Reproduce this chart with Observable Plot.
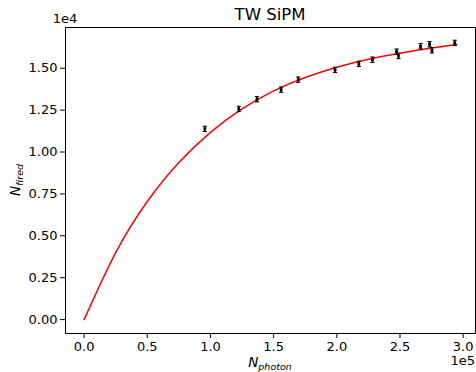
<!DOCTYPE html>
<html>
<head>
<meta charset="utf-8">
<script src="https://cdn.jsdelivr.net/npm/d3@7"></script>
<script src="https://cdn.jsdelivr.net/npm/@observablehq/plot@0.6"></script>
<style>
  html, body { margin: 0; padding: 0; background: #fff; }
  #chart { width: 476px; height: 372px; }
</style>
</head>
<body>
<div id="chart"></div>
<script>
// Measured points (N_photon, N_fired) with y error
const photons = [95500, 122400, 136800, 155900, 169500, 198600, 217400, 228200, 247300, 248800, 266300, 273400, 275300, 293300];
const fired   = [11380, 12570, 13150, 13720, 14320, 14900, 15260, 15510, 15990, 15730, 16310, 16430, 16070, 16510];
const firedErr = [160, 160, 160, 160, 160, 160, 160, 160, 160, 160, 160, 160, 160, 160];

// Fitted curve
const curveX = [0, 25000, 50000, 75000, 100000, 125000, 150000, 175000, 200000, 225000, 250000, 275000, 295000];
const curveY = [0, 4000, 7050, 9370, 11170, 12570, 13650, 14450, 15060, 15540, 15900, 16200, 16410];

const xTicks = [0, 50000, 100000, 150000, 200000, 250000, 300000];
const yTicks = [0, 2500, 5000, 7500, 10000, 12500, 15000];

const titleText = "TW SiPM";

const points = photons.map((x, i) => ({x, y: fired[i], lo: fired[i] - firedErr[i], hi: fired[i] + firedErr[i]}));
const curve = curveX.map((x, i) => ({x, y: curveY[i]}));

const capSymbol = {
  draw(ctx, size) {
    const w = Math.sqrt(size) * 0.6;
    ctx.moveTo(-w, 0);
    ctx.lineTo(w, 0);
  }
};

const plot = Plot.plot({
  width: 476,
  height: 372,
  marginLeft: 65,
  marginRight: 1,
  marginTop: 27,
  marginBottom: 39,
  style: {fontFamily: "DejaVu Sans", fontSize: "13px", color: "#000", background: "#fff"},
  x: {domain: [-14750, 309750]},
  y: {domain: [-830, 17430]},
  marks: [
    Plot.line(curve, {x: "x", y: "y", stroke: "#ff0000", strokeWidth: 1.5, curve: "natural"}),
    Plot.link(points, {x1: "x", x2: "x", y1: "lo", y2: "hi", stroke: "#000", strokeWidth: 1.6}),
    Plot.dot(points, {x: "x", y: "lo", symbol: capSymbol, r: 2, stroke: "#000", strokeWidth: 1, fill: "none"}),
    Plot.dot(points, {x: "x", y: "hi", symbol: capSymbol, r: 2, stroke: "#000", strokeWidth: 1, fill: "none"}),
    Plot.dot(points, {x: "x", y: "y", symbol: "square", r: 1.6, fill: "#000", stroke: "none"}),
    Plot.axisX({ticks: xTicks, tickFormat: d => (d / 1e5).toFixed(1), tickSize: 5, tickPadding: 3, fontSize: 13, label: null}),
    Plot.axisY({ticks: yTicks, tickFormat: d => (d / 1e4).toFixed(2), tickSize: 5, tickPadding: 3, fontSize: 13, label: null}),
    Plot.frame({stroke: "#000", strokeWidth: 1})
  ]
});

document.getElementById("chart").appendChild(plot);

const svg = d3.select(plot);
svg.append("text")
  .attr("x", 270).attr("y", 20)
  .attr("text-anchor", "middle")
  .attr("font-family", "DejaVu Sans").attr("font-size", 16.5).attr("fill", "#000")
  .text(titleText);

svg.append("text")
  .attr("x", 65).attr("y", 23)
  .attr("font-family", "DejaVu Sans").attr("font-size", 13).attr("fill", "#000")
  .text("1e4");

svg.append("text")
  .attr("x", 475).attr("y", 365)
  .attr("text-anchor", "end")
  .attr("font-family", "DejaVu Sans").attr("font-size", 13).attr("fill", "#000")
  .text("1e5");

const xl = svg.append("text")
  .attr("x", 270).attr("y", 367)
  .attr("text-anchor", "middle")
  .attr("font-family", "DejaVu Sans").attr("font-style", "italic").attr("font-size", 13.5).attr("fill", "#000");
xl.append("tspan").text("N");
xl.append("tspan").attr("font-size", 9.5).attr("dy", 2.5).text("photon");

const yl = svg.append("text")
  .attr("transform", "translate(20,180) rotate(-90)")
  .attr("text-anchor", "middle")
  .attr("font-family", "DejaVu Sans").attr("font-style", "italic").attr("font-size", 13.5).attr("fill", "#000");
yl.append("tspan").text("N");
yl.append("tspan").attr("font-size", 9.5).attr("dy", 2.5).text("fired");
</script>
</body>
</html>
